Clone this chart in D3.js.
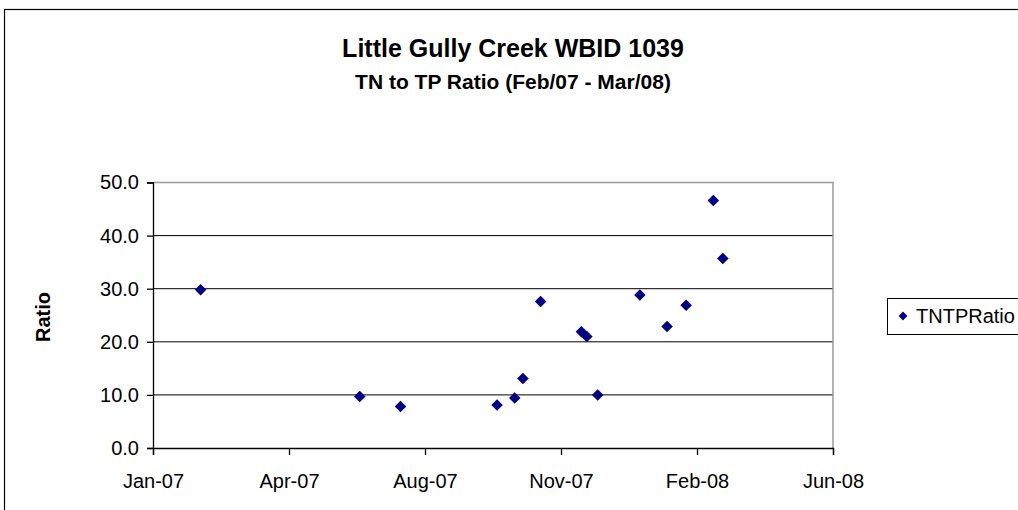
<!DOCTYPE html>
<html>
<head>
<meta charset="utf-8">
<script src="https://cdn.jsdelivr.net/npm/d3@7"></script>
<style>
  body { margin: 0; background: #fff; }
  text { font-family: "Liberation Sans", Arial, sans-serif; }
</style>
</head>
<body>
<div id="chart"></div>
<script>
// sample dates and TN:TP ratios
var sampleDates = ["2007-02-22", "2007-06-19", "2007-07-19", "2007-09-28", "2007-10-11",
    "2007-10-17", "2007-10-30", "2007-11-29", "2007-12-03", "2007-12-11",
    "2008-01-11", "2008-01-31", "2008-02-14", "2008-03-05", "2008-03-12"];
var ratios = [29.8, 9.7, 7.8, 8.1, 9.4, 13.1, 27.6, 21.9, 21.0, 10.0, 28.8, 22.9, 26.9, 46.6, 35.7];

// x axis is an Excel serial number axis (39100..39600 step 100)
var xTickSerials = [39100, 39200, 39300, 39400, 39500, 39600];
var yTicks = [0, 10, 20, 30, 40, 50];

var parse = d3.timeParse("%Y-%m-%d");
function serialToDate(s) {
    return new Date(Date.UTC(1899, 11, 30) + s * 86400000);
}
var data = sampleDates.map(function(d, i) {
    var p = parse(d);
    return { date: new Date(Date.UTC(p.getFullYear(), p.getMonth(), p.getDate())), ratio: ratios[i] };
});
var xTicks = xTickSerials.map(serialToDate);

var width = 1018, height = 510;
var plotLeft = 153, plotRight = 833, plotTop = 182.5, plotBottom = 448;

var svg = d3.select("#chart").append("svg")
    .attr("width", width)
    .attr("height", height);

// outer chart border
svg.append("rect")
    .attr("x", 4.5).attr("y", 9.5)
    .attr("width", 1100).attr("height", 600)
    .attr("fill", "none")
    .attr("stroke", "#000")
    .attr("stroke-width", 1.2);

var x = d3.scaleUtc()
    .domain([xTicks[0], xTicks[xTicks.length - 1]])
    .range([plotLeft, plotRight]);

var y = d3.scaleLinear()
    .domain([0, 50])
    .range([plotBottom, plotTop]);

// gridlines
svg.selectAll("line.grid")
    .data(yTicks.slice(1, -1))
    .enter()
    .append("line")
    .attr("class", "grid")
    .attr("x1", plotLeft).attr("x2", plotRight)
    .attr("y1", function(d) { return y(d); })
    .attr("y2", function(d) { return y(d); })
    .attr("stroke", "#000")
    .attr("stroke-width", 1);

// plot area border (top/right)
svg.append("path")
    .attr("d", "M" + plotLeft + "," + y(50) + "H" + plotRight + "V" + plotBottom)
    .attr("fill", "none")
    .attr("stroke", "#999")
    .attr("stroke-width", 1.5);

var yAxis = svg.append("g")
    .attr("transform", "translate(" + plotLeft + ",0)")
    .call(d3.axisLeft(y).tickValues(yTicks).tickSize(6).tickPadding(8)
        .tickFormat(d3.format(".1f")));

var xAxis = svg.append("g")
    .attr("transform", "translate(0," + plotBottom + ")")
    .call(d3.axisBottom(x).tickValues(xTicks).tickSize(7).tickPadding(19)
        .tickFormat(d3.utcFormat("%b-%y")));

[yAxis, xAxis].forEach(function(g) {
    g.select(".domain").attr("stroke", "#000").attr("stroke-width", 1.3);
    g.selectAll(".tick line").attr("stroke", "#000").attr("stroke-width", 1.3);
    g.selectAll(".tick text")
        .attr("fill", "#000")
        .attr("font-size", "20px")
        .attr("font-family", "'Liberation Sans', Arial, sans-serif");
});

// diamond markers
var diamond = d3.symbol().type(d3.symbolDiamond2).size(85);
svg.selectAll("path.pt")
    .data(data)
    .enter()
    .append("path")
    .attr("class", "pt")
    .attr("d", diamond)
    .attr("transform", function(d) {
        return "translate(" + x(d.date) + "," + y(d.ratio) + ")";
    })
    .attr("fill", "#000080");

// titles
svg.append("text")
    .attr("x", 513).attr("y", 57)
    .attr("text-anchor", "middle")
    .attr("font-size", "25px")
    .attr("font-weight", "bold")
    .text("Little Gully Creek WBID 1039");

svg.append("text")
    .attr("x", 513).attr("y", 89)
    .attr("text-anchor", "middle")
    .attr("font-size", "21px")
    .attr("font-weight", "bold")
    .text("TN to TP Ratio (Feb/07 - Mar/08)");

svg.append("text")
    .attr("transform", "translate(50,317) rotate(-90)")
    .attr("text-anchor", "middle")
    .attr("font-size", "20px")
    .attr("font-weight", "bold")
    .text("Ratio");

// legend
var legend = svg.append("g");
legend.append("rect")
    .attr("x", 887.5).attr("y", 298.5)
    .attr("width", 200).attr("height", 36)
    .attr("fill", "#fff")
    .attr("stroke", "#000")
    .attr("stroke-width", 1);
legend.append("path")
    .attr("d", d3.symbol().type(d3.symbolDiamond2).size(50))
    .attr("transform", "translate(903,316)")
    .attr("fill", "#000080");
legend.append("text")
    .attr("x", 916).attr("y", 323)
    .attr("font-size", "20px")
    .text("TNTPRatio");
</script>
</body>
</html>
